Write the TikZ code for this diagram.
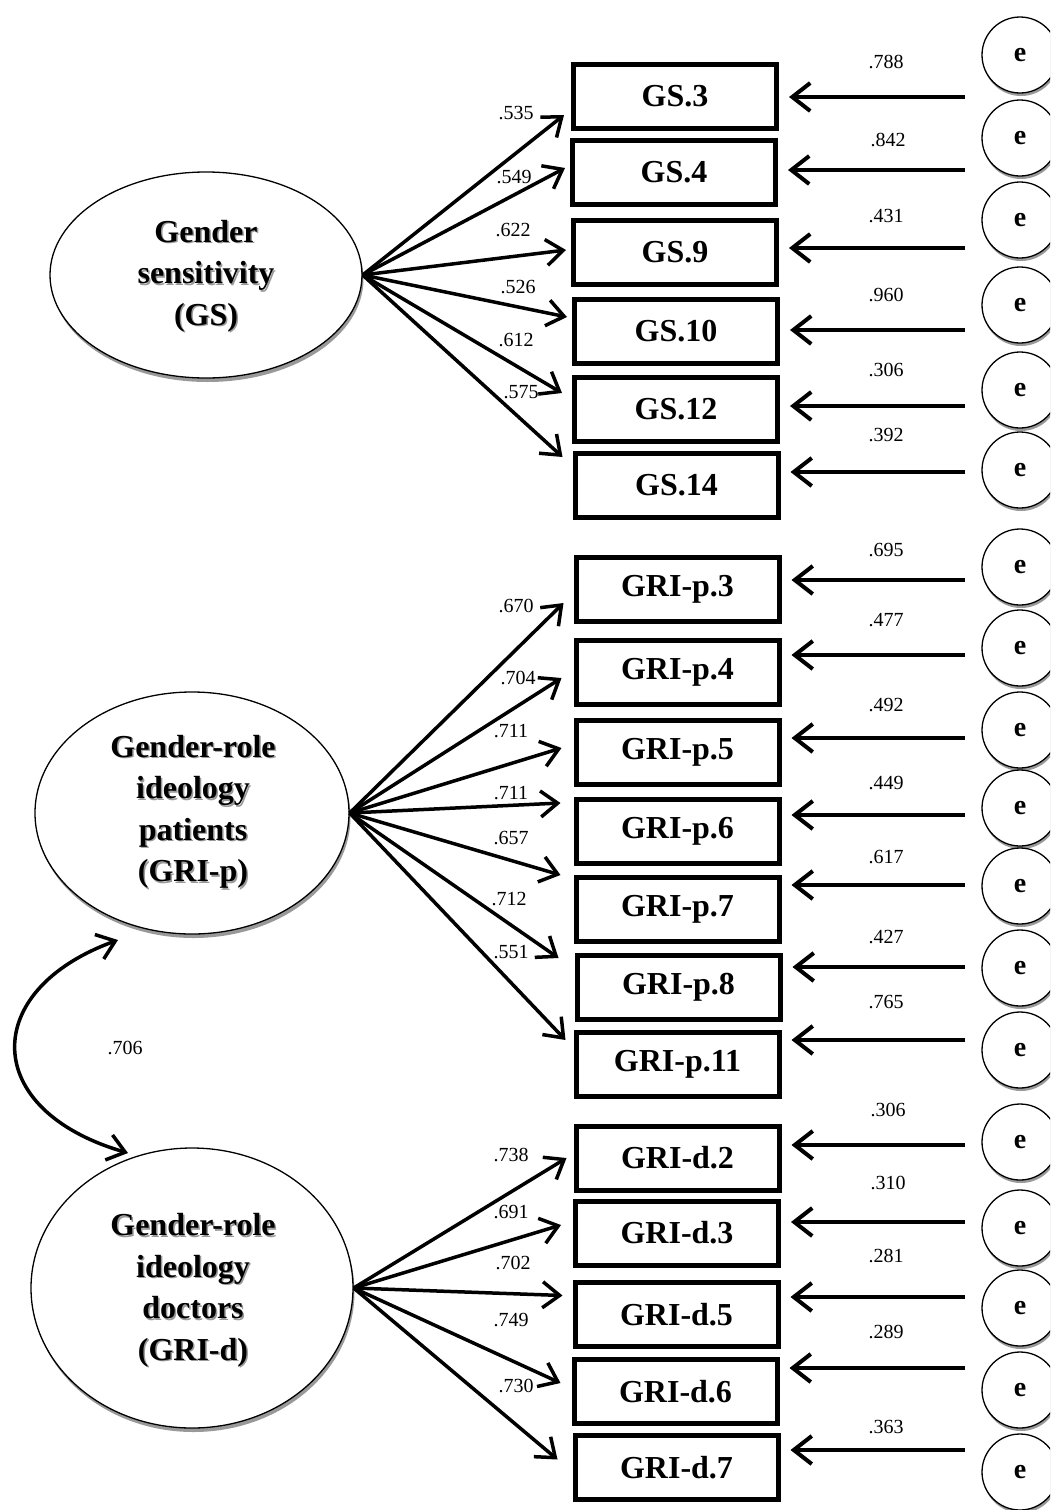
\documentclass[tikz,border=0pt]{standalone}
\usepackage{fontspec}
\setmainfont{Liberation Serif}
\usetikzlibrary{arrows.meta,shapes.geometric,calc,shadows}
\begin{document}
\begin{tikzpicture}[x=1pt,y=-1pt,
  box/.style={draw, line width=5pt, minimum width=203pt, minimum height=64pt, inner sep=0pt,
    font=\fontsize{32}{36}\selectfont\bfseries},
  latent/.style={ellipse, draw, line width=1.3pt, fill=white, inner sep=0pt,
    drop shadow={shadow xshift=1.5pt, shadow yshift=-4pt, fill=black!40, opacity=1}},
  lattext/.style={align=center, inner sep=0pt, font=\fontsize{32}{41.5}\selectfont\bfseries},
  errc/.style={circle, draw, line width=1.3pt, fill=white, minimum size=76pt, inner sep=0pt,
    font=\fontsize{28}{30}\selectfont\bfseries,
    drop shadow={shadow xshift=1pt, shadow yshift=-3pt, fill=black!40, opacity=1}},
  val/.style={inner sep=0pt, font=\fontsize{20}{22}\selectfont},
  load/.style={line width=3.5pt, -{Straight Barb[length=17pt,width=26pt]}},
  errarrow/.style={line width=4pt, -{Straight Barb[length=18pt,width=28pt]}},
  corr/.style={line width=3.5pt, {Straight Barb[length=17pt,width=26pt]}-{Straight Barb[length=17pt,width=26pt]}}
]
\useasboundingbox (0,0) rectangle (1050,1510);
\clip (0,0) rectangle (1050,1510);

% latent variables
\node[latent, minimum width=312pt, minimum height=206pt] (GS) at (206,275) {};
\node[lattext, text=black!40] at (207.5,277.5) {Gender\\sensitivity\\(GS)};
\node[lattext] (GSt) at (206,276) {Gender\\sensitivity\\(GS)};

\node[latent, minimum width=314pt, minimum height=242pt] (GRIp) at (192,813) {};
\node[lattext, text=black!40] at (194.5,813.5) {Gender-role\\ideology\\patients\\(GRI-p)};
\node[lattext] (GRIpt) at (193,812) {Gender-role\\ideology\\patients\\(GRI-p)};

\node[latent, minimum width=322pt, minimum height=280pt] (GRId) at (192,1288) {};
\node[lattext, text=black!40] at (194.5,1292) {Gender-role\\ideology\\doctors\\(GRI-d)};
\node[lattext] (GRIdt) at (193,1290.5) {Gender-role\\ideology\\doctors\\(GRI-d)};

% indicators
\node[box] (b1) at (675,96.5) {GS.3};
\node[box] (b2) at (674,172.5) {GS.4};
\node[box] (b3) at (675,252) {GS.9};
\node[box] (b4) at (676,331) {GS.10};
\node[box] (b5) at (676,409) {GS.12};
\node[box] (b6) at (676.5,485) {GS.14};
\node[box] (b7) at (677.5,589) {GRI-p.3};
\node[box] (b8) at (677.5,672) {GRI-p.4};
\node[box] (b9) at (677.5,752.5) {GRI-p.5};
\node[box] (b10) at (677.5,831.5) {GRI-p.6};
\node[box] (b11) at (677.5,909.5) {GRI-p.7};
\node[box] (b12) at (678.5,987.5) {GRI-p.8};
\node[box] (b13) at (677.5,1064) {GRI-p.11};
\node[box] (b14) at (677.5,1158) {GRI-d.2};
\node[box] (b15) at (677,1233) {GRI-d.3};
\node[box] (b16) at (676.5,1314.5) {GRI-d.5};
\node[box] (b17) at (675.5,1391.5) {GRI-d.6};
\node[box] (b18) at (676.5,1467.5) {GRI-d.7};

% loadings GS
\draw[load] (GS.east) -- ($(b1.west)+(-7,18.5)$);
\draw[load] (GS.east) -- ($(b2.west)+(-5,-4.5)$);
\draw[load] (GS.east) -- ($(b3.west)+(-5,-2)$);
\draw[load] (GS.east) -- ($(b4.west)+(-5,-14)$);
\draw[load] (GS.east) -- ($(b5.west)+(-10,-16)$);
\draw[load] (GS.east) -- ($(b6.west)+(-10,-28)$);
% loadings GRI-p
\draw[load] (GRIp.east) -- ($(b7.west)+(-10,14)$);
\draw[load] (GRIp.east) -- ($(b8.west)+(-12,6)$);
\draw[load] (GRIp.east) -- ($(b9.west)+(-12,-4.5)$);
\draw[load] (GRIp.east) -- ($(b10.west)+(-13,-28.5)$);
\draw[load] (GRIp.east) -- ($(b11.west)+(-13,-34.5)$);
\draw[load] (GRIp.east) -- ($(b12.west)+(-16,-29.5)$);
\draw[load] (GRIp.east) -- ($(b13.west)+(-8,-24)$);
% loadings GRI-d
\draw[load] (GRId.east) -- ($(b14.west)+(-7,0)$);
\draw[load] (GRId.east) -- ($(b15.west)+(-12,-8)$);
\draw[load] (GRId.east) -- ($(b16.west)+(-10,-19)$);
\draw[load] (GRId.east) -- ($(b17.west)+(-11,-8.5)$);
\draw[load] (GRId.east) -- ($(b18.west)+(-15,-8)$);

% loading values
\node[val] at (516,113) {.535};
\node[val] at (514,177) {.549};
\node[val] at (513,230) {.622};
\node[val] at (518,287) {.526};
\node[val] at (516,340) {.612};
\node[val] at (521,392) {.575};
\node[val] at (516,606) {.670};
\node[val] at (518,678) {.704};
\node[val] at (511,731) {.711};
\node[val] at (511,793) {.711};
\node[val] at (511,838) {.657};
\node[val] at (509,899) {.712};
\node[val] at (511,952) {.551};
\node[val] at (511,1155) {.738};
\node[val] at (511,1212) {.691};
\node[val] at (513,1263) {.702};
\node[val] at (511,1320) {.749};
\node[val] at (516,1386) {.730};

% error terms
\node[errc] (e1) at (1020,55) {e};
\node[errc] (e2) at (1020,138) {e};
\node[errc] (e3) at (1020,220) {e};
\node[errc] (e4) at (1020,305) {e};
\node[errc] (e5) at (1020,390) {e};
\node[errc] (e6) at (1020,470) {e};
\node[errc] (e7) at (1020,567) {e};
\node[errc] (e8) at (1020,648) {e};
\node[errc] (e9) at (1020,730) {e};
\node[errc] (e10) at (1020,808) {e};
\node[errc] (e11) at (1020,886) {e};
\node[errc] (e12) at (1020,968) {e};
\node[errc] (e13) at (1020,1050) {e};
\node[errc] (e14) at (1020,1142) {e};
\node[errc] (e15) at (1020,1228) {e};
\node[errc] (e16) at (1020,1308) {e};
\node[errc] (e17) at (1020,1390) {e};
\node[errc] (e18) at (1020,1472) {e};

% error arrows
\foreach \i/\yy in {1/97,2/170,3/248,4/330,5/406,6/472,7/580,8/655,9/738,10/815,11/885,12/967,13/1040,14/1145,15/1222,16/1297,17/1368,18/1450}{
  \coordinate (s\i) at (965,\yy);
  \draw[errarrow] (s\i) -- ([xshift=10pt]s\i -| b\i.east);
}

% error values
\node[val] at (886,62) {.788};
\node[val] at (888,140) {.842};
\node[val] at (886,216) {.431};
\node[val] at (886,295) {.960};
\node[val] at (886,370) {.306};
\node[val] at (886,435) {.392};
\node[val] at (886,550) {.695};
\node[val] at (886,620) {.477};
\node[val] at (886,705) {.492};
\node[val] at (886,783) {.449};
\node[val] at (886,857) {.617};
\node[val] at (886,937) {.427};
\node[val] at (886,1002) {.765};
\node[val] at (888,1110) {.306};
\node[val] at (888,1183) {.310};
\node[val] at (886,1256) {.281};
\node[val] at (886,1332) {.289};
\node[val] at (886,1427) {.363};

% correlation
\coordinate (cp) at (118,940);
\coordinate (cd) at (128,1153);
\draw[corr] (cp) .. controls (-20,990) and (-20,1110) .. (cd);
\node[val] at (125,1048) {.706};
\end{tikzpicture}
\end{document}
